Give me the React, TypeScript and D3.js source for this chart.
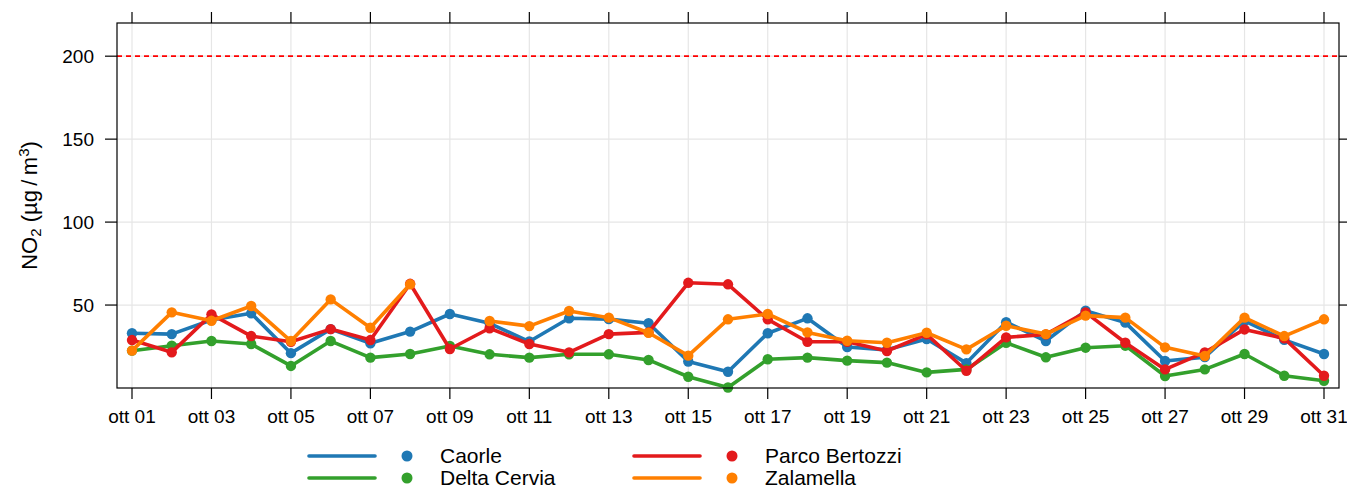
import React, { useEffect, useRef } from 'react';
import * as d3 from 'd3';

const days = d3.range(1, 32);
const xTickDays = [1, 3, 5, 7, 9, 11, 13, 15, 17, 19, 21, 23, 25, 27, 29, 31];
const xTickLabels = xTickDays.map(d => `ott ${String(d).padStart(2, '0')}`);
const yTicks = [50, 100, 150, 200];
const limitValue = 200;

const caorle = [33, 32.5, 41, 45, 21, 35.5, 27, 34, 44.6, 39, 28, 42, 41.5, 39, 16, 9.8, 33, 42, 24.7, 23, 29.5, 15, 39.7, 28.3, 46.6, 39.4, 16.3, 18.6, 40.5, 29, 20.5];
const deltaCervia = [22.5, 25.5, 28.3, 26.5, 13.3, 28.3, 18.3, 20.5, 25.3, 20.3, 18.3, 20.3, 20.3, 16.9, 6.8, 0.3, 17.3, 18.3, 16.5, 15.3, 9.4, 11.2, 27.3, 18.5, 24.3, 25.5, 7.2, 11.2, 20.5, 7.4, 4.4];
const parcoBertozzi = [28.9, 21.5, 44.4, 31.3, 27.9, 35.5, 28.9, 62.8, 23.5, 36, 26.5, 21.5, 32.5, 33.5, 63.4, 62.5, 41.4, 27.9, 27.9, 22.3, 32.3, 10.4, 30.5, 32.3, 45.6, 27.3, 11.2, 21.5, 35.3, 29.9, 7.4];
const zalamella = [22.5, 45.6, 40.5, 49.4, 28.3, 53.4, 36.3, 62.5, null, 40.4, 37.3, 46.4, 42.4, 33.3, 19.5, 41.4, 44.6, 33.5, 28.5, 27.3, 33.3, 23.3, 37.5, 32.5, 43.6, 42.4, 24.5, 19.3, 42.4, 31.3, 41.4];

const seriesNames = ['Caorle', 'Delta Cervia', 'Parco Bertozzi', 'Zalamella'];
const seriesColors = ['#1f78b4', '#33a02c', '#e31a1c', '#ff7f00'];
const seriesValues = [caorle, deltaCervia, parcoBertozzi, zalamella];

const App = () => {
  const ref = useRef<SVGSVGElement>(null);

  useEffect(() => {
    const svg = d3.select(ref.current);
    svg.selectAll('*').remove();

    const width = 1347;
    const height = 490;
    const box = { left: 117, right: 1339, top: 23, bottom: 388 };
    const font = 'Liberation Sans, Arial, sans-serif';

    svg.attr('width', width).attr('height', height);

    const x = d3.scaleLinear().domain([1, 31]).range([132, 1324]);
    const y = d3.scaleLinear().domain([0, 220]).range([box.bottom, box.top]);

    // grid
    const grid = svg.append('g').attr('stroke', '#e6e6e6').attr('stroke-width', 1.2);
    xTickDays.forEach(d => {
      grid.append('line')
        .attr('x1', x(d)).attr('x2', x(d))
        .attr('y1', box.top).attr('y2', box.bottom);
    });
    yTicks.forEach(v => {
      grid.append('line')
        .attr('x1', box.left).attr('x2', box.right)
        .attr('y1', y(v)).attr('y2', y(v));
    });

    // limit line
    svg.append('line')
      .attr('x1', box.left).attr('x2', box.right)
      .attr('y1', y(limitValue)).attr('y2', y(limitValue))
      .attr('stroke', '#ff0000')
      .attr('stroke-width', 1.8)
      .attr('stroke-dasharray', '5,4');

    // series
    const plot = svg.append('g');
    seriesValues.forEach((vals, i) => {
      const pts = days.map((d, j) => ({ d, v: vals[j] }));
      const line = d3.line<{ d: number; v: number | null }>()
        .defined(p => p.v !== null)
        .x(p => x(p.d))
        .y(p => y(p.v as number));
      plot.append('path')
        .datum(pts)
        .attr('d', line)
        .attr('fill', 'none')
        .attr('stroke', seriesColors[i])
        .attr('stroke-width', 3.6)
        .attr('stroke-linejoin', 'round');
      plot.selectAll(null)
        .data(pts.filter(p => p.v !== null))
        .enter()
        .append('circle')
        .attr('cx', p => x(p.d))
        .attr('cy', p => y(p.v as number))
        .attr('r', 5.2)
        .attr('fill', seriesColors[i]);
    });

    // box
    svg.append('rect')
      .attr('x', box.left).attr('y', box.top)
      .attr('width', box.right - box.left)
      .attr('height', box.bottom - box.top)
      .attr('fill', 'none')
      .attr('stroke', '#000')
      .attr('stroke-width', 1.2);

    // ticks on all four sides
    const axes = svg.append('g').attr('stroke', '#000').attr('stroke-width', 1.2);
    xTickDays.forEach(d => {
      axes.append('line').attr('x1', x(d)).attr('x2', x(d)).attr('y1', box.bottom).attr('y2', box.bottom + 11);
      axes.append('line').attr('x1', x(d)).attr('x2', x(d)).attr('y1', box.top).attr('y2', box.top - 11);
    });
    yTicks.forEach(v => {
      axes.append('line').attr('x1', box.left).attr('x2', box.left - 12).attr('y1', y(v)).attr('y2', y(v));
      axes.append('line').attr('x1', box.right).attr('x2', box.right + 10).attr('y1', y(v)).attr('y2', y(v));
    });

    svg.append('g')
      .selectAll('text')
      .data(xTickDays)
      .enter()
      .append('text')
      .attr('x', d => x(d))
      .attr('y', 423)
      .attr('text-anchor', 'middle')
      .attr('font-family', font)
      .attr('font-size', 19)
      .text((d, i) => xTickLabels[i]);

    svg.append('g')
      .selectAll('text')
      .data(yTicks)
      .enter()
      .append('text')
      .attr('x', 94)
      .attr('y', v => y(v))
      .attr('dy', '0.35em')
      .attr('text-anchor', 'end')
      .attr('font-family', font)
      .attr('font-size', 19)
      .text(v => v);

    // y label
    const yl = svg.append('text')
      .attr('transform', `translate(37,${(box.top + box.bottom) / 2}) rotate(-90)`)
      .attr('text-anchor', 'middle')
      .attr('font-family', font)
      .attr('font-size', 22);
    yl.append('tspan').text('NO');
    yl.append('tspan').attr('font-size', 15).attr('baseline-shift', '-25%').text('2');
    yl.append('tspan').text(' (µg\u2009/\u2009m');
    yl.append('tspan').attr('font-size', 15).attr('baseline-shift', '55%').text('3');
    yl.append('tspan').text(')');

    // legend
    const legendCols = [
      { lineX: 309, dotX: 407, textX: 440 },
      { lineX: 634, dotX: 732, textX: 765 }
    ];
    const legendRows = [456, 478];
    seriesNames.forEach((name, i) => {
      const col = legendCols[Math.floor(i / 2)];
      const ry = legendRows[i % 2];
      const g = svg.append('g');
      g.append('line')
        .attr('x1', col.lineX).attr('x2', col.lineX + 66)
        .attr('y1', ry).attr('y2', ry)
        .attr('stroke', seriesColors[i])
        .attr('stroke-width', 3.6)
        .attr('stroke-linecap', 'round');
      g.append('circle')
        .attr('cx', col.dotX).attr('cy', ry)
        .attr('r', 5.5)
        .attr('fill', seriesColors[i]);
      g.append('text')
        .attr('x', col.textX).attr('y', ry)
        .attr('dy', '0.35em')
        .attr('font-family', font)
        .attr('font-size', 21)
        .text(name);
    });
  }, []);

  return <svg ref={ref} style={{ position: 'absolute', left: 0, top: 0 }}></svg>;
};

export default App;
